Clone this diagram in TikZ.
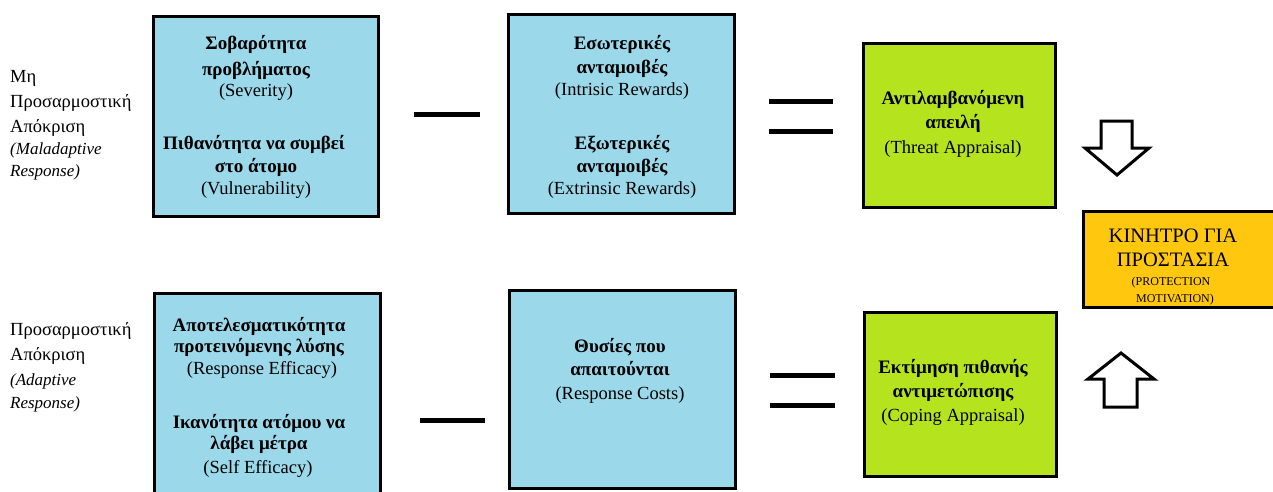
\documentclass[tikz,border=0pt]{standalone}
\usepackage{fontspec}
\setmainfont{Liberation Serif}
\definecolor{boxblue}{RGB}{155,216,233}
\definecolor{boxgreen}{RGB}{181,228,30}
\definecolor{boxorange}{RGB}{255,200,14}
\begin{document}
\begin{tikzpicture}[x=1pt,y=-1pt,
  box/.style={draw=black, line width=3pt, outer sep=0pt, inner sep=0pt},
  bl/.style={font=\fontsize{19}{22}\selectfont\bfseries, anchor=base, inner sep=0pt},
  rl/.style={font=\fontsize{18.5}{22}\selectfont, anchor=base, inner sep=0pt},
  sl/.style={font=\fontsize{18.5}{22}\selectfont, anchor=base west, inner sep=0pt},
  il/.style={font=\fontsize{17}{20}\selectfont\itshape, anchor=base west, inner sep=0pt},
  signline/.style={line width=5pt},
  blockarrow/.style={draw=black, line width=3pt, fill=white, line join=miter}]
\useasboundingbox (0,0) rectangle (1273,491);
\clip (0,0) rectangle (1273,491);

% boxes
\node[box, fill=boxblue, minimum width=225pt, minimum height=200pt] (b1) at (266,116.5) {};
\node[box, fill=boxblue, minimum width=226pt, minimum height=199pt] (b2) at (621.5,114) {};
\node[box, fill=boxgreen, minimum width=192pt, minimum height=164pt] (g1) at (959.5,125.5) {};
\node[box, fill=boxorange, minimum width=200pt, minimum height=96pt] (o1) at (1183.5,259.5) {};
\node[box, fill=boxblue, minimum width=226pt, minimum height=210pt] (b3) at (267.5,398.5) {};
\node[box, fill=boxblue, minimum width=226pt, minimum height=198pt] (b4) at (622.5,389.5) {};
\node[box, fill=boxgreen, minimum width=192pt, minimum height=164pt] (g2) at (960.5,394.5) {};

% left labels
\node[sl] (m1) at (10,82) {Μη};
\node[sl] (m2) at (10,107) {Προσαρμοστική};
\node[sl] (m3) at (10,132) {Απόκριση};
\node[il] (m4) at (10,154) {(Maladaptive};
\node[il] (m5) at (10,176) {Response)};
\node[sl] (a2) at (10,335) {Προσαρμοστική};
\node[sl] (a3) at (10,360) {Απόκριση};
\node[il] (a4) at (10,385) {(Adaptive};
\node[il] (a5) at (10,408) {Response)};

% box 1 text
\node[bl] (t11) at (256,49) {Σοβαρότητα};
\node[bl] (t12) at (256,75) {προβλήματος};
\node[rl] (t13) at (256,96) {(Severity)};
\node[bl] (t14) at (254,149) {Πιθανότητα να συμβεί};
\node[bl] (t15) at (256,172) {στο άτομο};
\node[rl] (t16) at (256,194) {(Vulnerability)};

% box 2 text
\node[bl] (t21) at (622,49) {Εσωτερικές};
\node[bl] (t22) at (622,73) {ανταμοιβές};
\node[rl] (t23) at (622,95) {(Intrisic Rewards)};
\node[bl] (t24) at (622,149) {Εξωτερικές};
\node[bl] (t25) at (622,172) {ανταμοιβές};
\node[rl] (t26) at (622,194) {(Extrinsic Rewards)};

% green 1 text
\node[bl] (t31) at (953,104) {Αντιλαμβανόμενη};
\node[bl] (t32) at (953,128) {απειλή};
\node[rl] (t33) at (953,153) {(Threat Appraisal)};

% orange text
\node[rl, font=\fontsize{20.5}{22}\selectfont] (t41) at (1173,242) {ΚΙΝΗΤΡΟ ΓΙΑ};
\node[rl, font=\fontsize{20.5}{22}\selectfont] (t42) at (1173,266) {ΠΡΟΣΤΑΣΙΑ};
\node[rl, font=\fontsize{12}{13}\selectfont] (t43) at (1171,285) {(PROTECTION};
\node[rl, font=\fontsize{12}{13}\selectfont] (t44) at (1175,302) {MOTIVATION)};

% box 3 text
\node[bl] (t51) at (259,331) {Αποτελεσματικότητα};
\node[bl] (t52) at (259,352) {προτεινόμενης λύσης};
\node[rl] (t53) at (262,374) {(Response Efficacy)};
\node[bl] (t54) at (259,428) {Ικανότητα ατόμου να};
\node[bl] (t55) at (259,449) {λάβει μέτρα};
\node[rl] (t56) at (258,473) {(Self Efficacy)};

% box 4 text
\node[bl] (t61) at (620,352) {Θυσίες που};
\node[bl] (t62) at (620,375) {απαιτούνται};
\node[rl] (t63) at (620,399) {(Response Costs)};

% green 2 text
\node[bl] (t71) at (953,373) {Εκτίμηση πιθανής};
\node[bl] (t72) at (953,397) {αντιμετώπισης};
\node[rl] (t73) at (953,421) {(Coping Appraisal)};

% minus and equals signs
\coordinate (mi1a) at (414,114); \coordinate (mi1b) at (480,114);
\draw[signline] (mi1a) -- (mi1b);
\coordinate (eq1a) at (769,101); \coordinate (eq1b) at (833,101);
\coordinate (eq1c) at (769,131); \coordinate (eq1d) at (833,131);
\draw[signline] (eq1a) -- (eq1b);
\draw[signline] (eq1c) -- (eq1d);
\coordinate (mi2a) at (420,420); \coordinate (mi2b) at (485,420);
\draw[signline] (mi2a) -- (mi2b);
\coordinate (eq2a) at (770,375); \coordinate (eq2b) at (835,375);
\coordinate (eq2c) at (770,405); \coordinate (eq2d) at (835,405);
\draw[signline] (eq2a) -- (eq2b);
\draw[signline] (eq2c) -- (eq2d);

% block arrows
\draw[blockarrow] (1101,121) -- (1132,121) -- (1132,148) -- (1149,148) -- (1117,175) -- (1085,148) -- (1101,148) -- cycle;
\draw[blockarrow] (1104,407) -- (1137,407) -- (1137,379) -- (1154,379) -- (1121,353) -- (1088,379) -- (1104,379) -- cycle;
\end{tikzpicture}
\end{document}
